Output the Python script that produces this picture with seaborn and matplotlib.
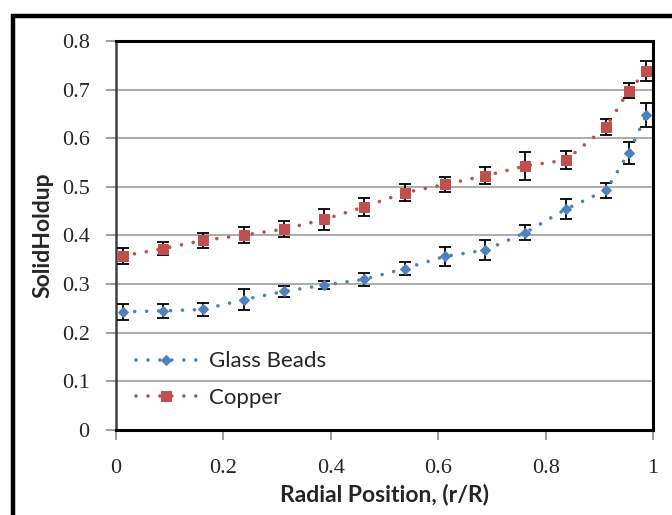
import matplotlib
matplotlib.use("Agg")
import matplotlib.pyplot as plt
import matplotlib.patches as mpatches
import seaborn as sns
import pandas as pd

radial = [0.0125, 0.0875, 0.1625, 0.2375, 0.3125, 0.3875, 0.4625, 0.5375,
          0.6125, 0.6875, 0.7625, 0.8375, 0.9125, 0.955, 0.9875]
glass = [0.243, 0.245, 0.248, 0.268, 0.285, 0.298, 0.310, 0.332,
         0.357, 0.370, 0.406, 0.454, 0.493, 0.570, 0.648]
glass_err = [0.016, 0.014, 0.013, 0.021, 0.011, 0.009, 0.013, 0.014,
             0.020, 0.021, 0.015, 0.021, 0.015, 0.022, 0.025]
copper = [0.358, 0.373, 0.390, 0.401, 0.413, 0.433, 0.459, 0.488,
          0.505, 0.523, 0.543, 0.555, 0.623, 0.698, 0.738]
copper_err = [0.017, 0.014, 0.016, 0.016, 0.016, 0.022, 0.018, 0.017,
              0.016, 0.017, 0.029, 0.019, 0.017, 0.016, 0.020]
series_names = ["Glass Beads", "Copper"]
x_ticks = [0, 0.2, 0.4, 0.6, 0.8, 1.0]
x_tick_labels = ["0", "0.2", "0.4", "0.6", "0.8", "1"]
y_ticks = [0, 0.1, 0.2, 0.3, 0.4, 0.5, 0.6, 0.7, 0.8]
y_tick_labels = ["0", "0.1", "0.2", "0.3", "0.4", "0.5", "0.6", "0.7", "0.8"]

sns.set_theme(style="white")
plt.rcParams["font.family"] = ["Lato", "DejaVu Sans"]

fig = plt.figure(figsize=(6.72, 5.15), dpi=100)
ax = fig.add_axes([116/672, 1 - 430/515, (653-116)/672, (430-41)/515])

# outer chart border
fig.patches.append(mpatches.Rectangle((13/672, -0.2), 1.2, 1.2 - 16/515,
                                      transform=fig.transFigure, fill=False,
                                      edgecolor="black", linewidth=3.2, zorder=0))

df_g = pd.DataFrame({"x": radial, "y": glass})
df_c = pd.DataFrame({"x": radial, "y": copper})

blue = "#4F81BD"
red = "#C0504D"

ax.yaxis.grid(True, color="#A6A6A6", linewidth=1.3, zorder=0)
ax.set_axisbelow(True)

sns.lineplot(data=df_g, x="x", y="y", ax=ax, color=blue, marker="D",
             markersize=5.5, markeredgecolor=blue, linewidth=2.6,
             label=series_names[0], zorder=4)
sns.lineplot(data=df_c, x="x", y="y", ax=ax, color=red, marker="s",
             markersize=7, markeredgecolor=red, linewidth=2.6,
             label=series_names[1], zorder=4)
for ln in list(ax.lines):
    ln.set_dashes((0.01, 3.3))
    ln.set_dash_capstyle("round")

ax.errorbar(radial, glass, yerr=glass_err, fmt="none", ecolor="black",
            elinewidth=1.3, capsize=4.5, capthick=1.3, zorder=3)
ax.errorbar(radial, copper, yerr=copper_err, fmt="none", ecolor="black",
            elinewidth=1.3, capsize=4.5, capthick=1.3, zorder=3)

ax.set_xlim(0, 1)
ax.set_ylim(0, 0.8)
ax.set_xticks(x_ticks)
ax.set_xticklabels(x_tick_labels, family=["Liberation Serif", "DejaVu Serif"], fontsize=16)
ax.set_yticks(y_ticks)
ax.set_yticklabels(y_tick_labels, family=["Liberation Serif", "DejaVu Serif"], fontsize=16)
ax.tick_params(axis="both", direction="out", length=7, width=1.2, color="#8C8C8C",
               pad=12, left=True, bottom=True)
ax.tick_params(axis="x", pad=14)

for s in ["top", "right", "bottom"]:
    ax.spines[s].set_color("black")
    ax.spines[s].set_linewidth(2.2)
ax.spines["left"].set_color("#404040")
ax.spines["left"].set_linewidth(1.8)

ax.set_xlabel("Radial Position, (r/R)", fontsize=16.5, fontweight="bold", labelpad=4)
ax.set_ylabel("SolidHoldup", fontsize=16.5, fontweight="bold", labelpad=6)

leg = ax.legend(loc="lower left", bbox_to_anchor=(0.0, 0.005), frameon=False,
                fontsize=16, handlelength=2.7, labelspacing=0.75, handletextpad=0.6)

fig.savefig("out.png", dpi=100)
